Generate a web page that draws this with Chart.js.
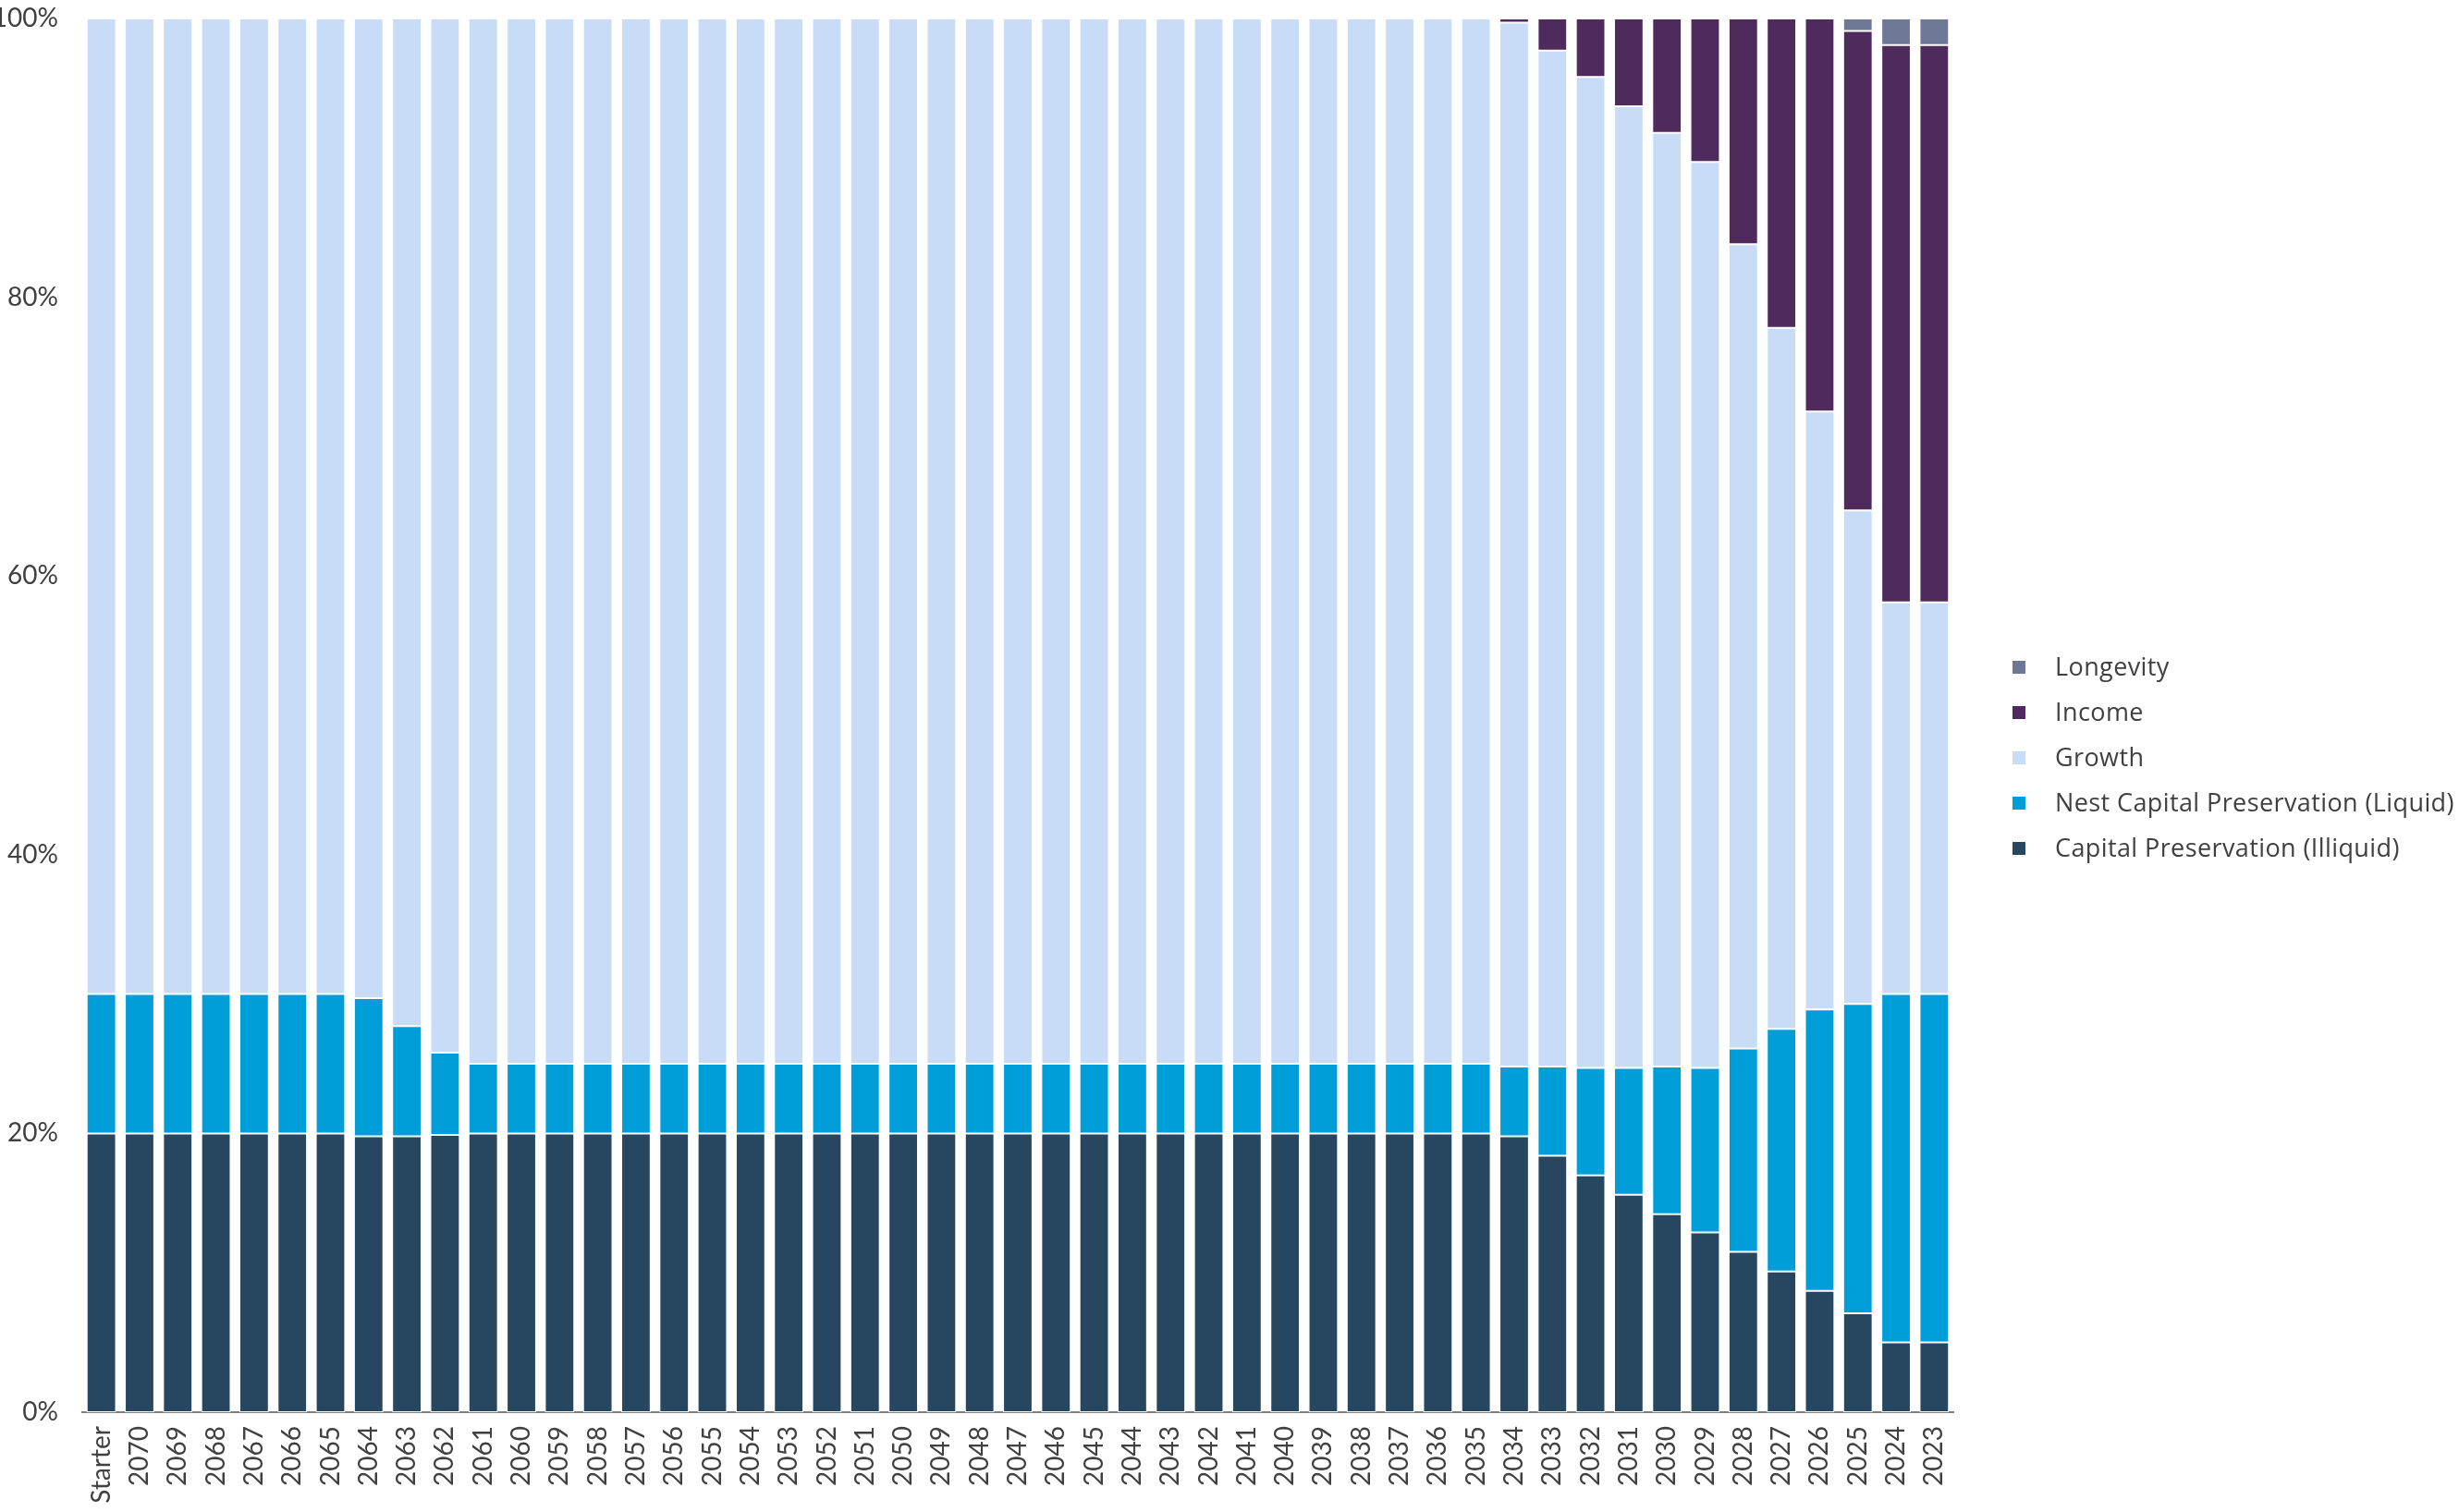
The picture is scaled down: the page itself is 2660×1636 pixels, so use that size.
<!DOCTYPE html>
<html>
<head>
<meta charset="utf-8">
<title>Glide path allocation</title>
<script src="https://cdn.jsdelivr.net/npm/chart.js@4/dist/chart.umd.min.js"></script>
<style>
  html, body { margin: 0; padding: 0; background: #ffffff; }
  #wrap { width: 2660px; height: 1636px; position: relative; }
</style>
</head>
<body>
<div id="wrap"><canvas id="chart" width="2660" height="1636"></canvas></div>
<script>
// Vintage labels, from the starter fund through to the 2023 vintage
const categories = [
  'Starter', '2070', '2069', '2068', '2067', '2066', '2065', '2064', '2063', '2062',
  '2061', '2060', '2059', '2058', '2057', '2056', '2055', '2054', '2053', '2052',
  '2051', '2050', '2049', '2048', '2047', '2046', '2045', '2044', '2043', '2042',
  '2041', '2040', '2039', '2038', '2037', '2036', '2035', '2034', '2033', '2032',
  '2031', '2030', '2029', '2028', '2027', '2026', '2025', '2024', '2023'
];

// Allocation per vintage, in percent
const capitalPreservationIlliquid = [
  20, 20, 20, 20, 20, 20, 20, 19.8, 19.8, 19.9,
  20, 20, 20, 20, 20, 20, 20, 20, 20, 20,
  20, 20, 20, 20, 20, 20, 20, 20, 20, 20,
  20, 20, 20, 20, 20, 20, 20, 19.8, 18.4, 17.0,
  15.6, 14.2, 12.9, 11.5, 10.1, 8.7, 7.1, 5.0, 5.0
];
const nestCapitalPreservationLiquid = [
  10, 10, 10, 10, 10, 10, 10, 9.9, 7.9, 5.9,
  5, 5, 5, 5, 5, 5, 5, 5, 5, 5,
  5, 5, 5, 5, 5, 5, 5, 5, 5, 5,
  5, 5, 5, 5, 5, 5, 5, 5.0, 6.4, 7.7,
  9.1, 10.6, 11.8, 14.6, 17.4, 20.2, 22.2, 25, 25
];
const growth = [
  70, 70, 70, 70, 70, 70, 70, 70.3, 72.3, 74.2,
  75, 75, 75, 75, 75, 75, 75, 75, 75, 75,
  75, 75, 75, 75, 75, 75, 75, 75, 75, 75,
  75, 75, 75, 75, 75, 75, 75, 74.9, 72.9, 71.1,
  69.0, 67.0, 65.0, 57.7, 50.3, 42.9, 35.4, 28.1, 28.1
];
const income = [
  0, 0, 0, 0, 0, 0, 0, 0, 0, 0,
  0, 0, 0, 0, 0, 0, 0, 0, 0, 0,
  0, 0, 0, 0, 0, 0, 0, 0, 0, 0,
  0, 0, 0, 0, 0, 0, 0, 0.3, 2.3, 4.2,
  6.3, 8.2, 10.3, 16.2, 22.2, 28.2, 34.4, 40.0, 40.0
];
const longevity = [
  0, 0, 0, 0, 0, 0, 0, 0, 0, 0,
  0, 0, 0, 0, 0, 0, 0, 0, 0, 0,
  0, 0, 0, 0, 0, 0, 0, 0, 0, 0,
  0, 0, 0, 0, 0, 0, 0, 0, 0, 0,
  0, 0, 0, 0, 0, 0, 0.9, 1.9, 1.9
];

const yTicks = [0, 20, 40, 60, 80, 100];

const FONT = 'Lato, "Open Sans", sans-serif';
const LEGEND_FONT = '"Open Sans", Lato, sans-serif';
const TEXT = '#404040';

function series(label, data, color) {
  return {
    label: label,
    data: data,
    backgroundColor: color,
    borderColor: '#ffffff',
    borderWidth: 1,
    borderSkipped: false,
    barPercentage: 0.77,
    categoryPercentage: 1.0
  };
}

// Legend drawn on the right, top entry is the top of the stack
const sideLegend = {
  id: 'sideLegend',
  afterDraw(chart) {
    const ctx = chart.ctx;
    const area = chart.chartArea;
    const items = chart.data.datasets.slice().reverse();
    const step = 49;
    const box = 14;
    const midY = chart.height / 2 + 2;
    const boxX = area.right + 64;
    const textX = area.right + 110;
    ctx.save();
    ctx.font = '27px ' + LEGEND_FONT;
    ctx.letterSpacing = '0.4px';
    ctx.textBaseline = 'middle';
    ctx.textAlign = 'left';
    items.forEach((ds, i) => {
      const y = midY + (i - (items.length - 1) / 2) * step;
      ctx.fillStyle = ds.backgroundColor;
      ctx.fillRect(boxX, y - box / 2, box, box);
      ctx.fillStyle = TEXT;
      ctx.fillText(ds.label, textX, y + 1);
    });
    ctx.restore();
  }
};

new Chart(document.getElementById('chart'), {
  type: 'bar',
  data: {
    labels: categories,
    datasets: [
      series('Capital Preservation (Illiquid)', capitalPreservationIlliquid, '#27465F'),
      series('Nest Capital Preservation (Liquid)', nestCapitalPreservationLiquid, '#009ED9'),
      series('Growth', growth, '#C8DBF7'),
      series('Income', income, '#4F2A5C'),
      series('Longevity', longevity, '#6E7896')
    ]
  },
  options: {
    responsive: false,
    animation: false,
    layout: { padding: { top: 0, right: 547, bottom: 0, left: 0 } },
    plugins: {
      legend: { display: false },
      tooltip: { enabled: false }
    },
    scales: {
      x: {
        stacked: true,
        grid: { display: false, drawTicks: false },
        border: { display: true, color: '#7F7F7F', width: 2 },
        ticks: {
          autoSkip: false,
          maxRotation: 90,
          minRotation: 90,
          padding: 15,
          color: TEXT,
          font: { family: FONT, size: 28 }
        },
        afterFit(scale) { scale.height = 108; }
      },
      y: {
        stacked: true,
        min: 0,
        max: 100,
        afterBuildTicks(scale) { scale.ticks = yTicks.map(v => ({ value: v })); },
        grid: { display: false, drawTicks: false },
        border: { display: false },
        ticks: {
          padding: 26,
          color: TEXT,
          font: { family: FONT, size: 28 },
          callback: v => v + '%'
        },
        afterFit(scale) {
          scale.width = 89;
          scale.paddingTop = 20;
          scale.paddingBottom = 0;
        }
      }
    }
  },
  plugins: [sideLegend]
});
</script>
</body>
</html>
